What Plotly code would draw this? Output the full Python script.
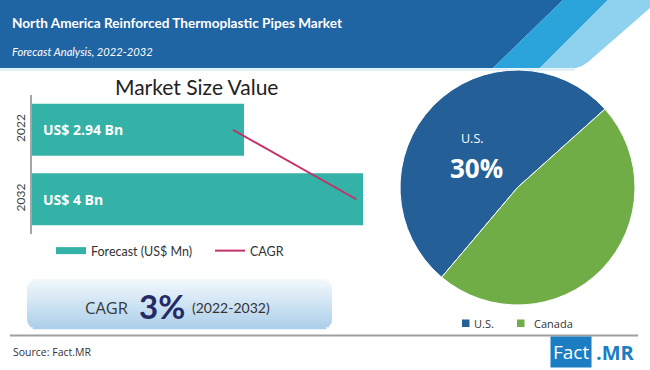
import plotly.graph_objects as go

# ---------------- data ----------------
years = ["2022", "2032"]
market_value_bn = [2.94, 4.0]
value_labels = ["US$ 2.94 Bn", "US$ 4 Bn"]
cagr_line = [2.84, 3.94]
regions = ["U.S.", "Canada"]
region_share_drawn = [52.2, 47.8]
us_label_name = "U.S."
us_label_value = "30%"
cagr_value = "3%"
cagr_period = "(2022-2032)"
title_text = "North America Reinforced Thermoplastic Pipes Market"
subtitle_text = "Forecast Analysis, 2022-2032"
chart_title = "Market Size Value"
source_text = "Source: Fact.MR"

# ---------------- styles ----------------
W, H = 650, 370
TEAL = "#34b2a8"
CAGR_C = "#c4306a"
BLUE = "#245f97"
GREEN = "#70ad47"
HEAD_DARK = "#1f64a3"
HEAD_MID = "#2aa4db"
HEAD_LIGHT = "#8ed2ef"
LOGO_BLUE = "#1b7dc2"
X_RANGE = [1.051, 4.0]

ypos = list(range(len(years)))  # category slots, first year on top


def px(x):
    return x / W


def py(y):
    return 1 - y / H


def path(points):
    return "M " + " L ".join(f"{px(a):.5f},{py(b):.5f}" for a, b in points) + " Z"


shapes = []
annotations = []

# header bands
shapes.append(dict(type="path", xref="paper", yref="paper", layer="below",
                   path=path([(0, 0), (563, 0), (493, 68), (0, 68)]),
                   fillcolor=HEAD_DARK, line=dict(width=0)))
shapes.append(dict(type="path", xref="paper", yref="paper", layer="below",
                   path=path([(563, 0), (608, 0), (540, 68), (493, 68)]),
                   fillcolor=HEAD_MID, line=dict(width=0)))
shapes.append(dict(type="path", xref="paper", yref="paper", layer="below",
                   path=path([(608, 0), (650, 0), (650, 8), (588, 62), (582, 66), (576, 68), (540, 68)]),
                   fillcolor=HEAD_LIGHT, line=dict(width=0)))
shapes.append(dict(type="line", xref="paper", yref="paper", layer="below",
                   x0=0, x1=px(575), y0=py(69.5), y1=py(69.5),
                   line=dict(color="#d6ecf8", width=2)))

# CAGR box with vertical gradient (strips with rounded corners)
bx0, bx1, by0, by1, rad = 27, 332, 279, 329, 10
n = 25
top_c = (242, 248, 252)
bot_c = (172, 207, 234)
step = (by1 - by0) / n
for i in range(n):
    y0 = by0 + i * step
    y1 = y0 + step
    ym = (y0 + y1) / 2
    inset = 0
    if ym < by0 + rad:
        d = by0 + rad - ym
        inset = rad - (rad ** 2 - d ** 2) ** 0.5
    elif ym > by1 - rad:
        d = ym - (by1 - rad)
        inset = rad - (rad ** 2 - d ** 2) ** 0.5
    t = i / (n - 1)
    c = tuple(int(round(top_c[k] + (bot_c[k] - top_c[k]) * t)) for k in range(3))
    shapes.append(dict(type="rect", xref="paper", yref="paper", layer="below",
                       x0=px(bx0 + inset), x1=px(bx1 - inset), y0=py(y1 + 0.3), y1=py(y0),
                       fillcolor=f"rgb{c}", line=dict(width=0)))

# bottom separator
shapes.append(dict(type="line", xref="paper", yref="paper",
                   x0=px(10), x1=px(638), y0=py(335.5), y1=py(335.5),
                   line=dict(color="#a0a0a0", width=2)))

# pie legend squares
shapes.append(dict(type="rect", xref="paper", yref="paper",
                   x0=px(462), x1=px(469.5), y0=py(327), y1=py(319.5),
                   fillcolor=BLUE, line=dict(width=0)))
shapes.append(dict(type="rect", xref="paper", yref="paper",
                   x0=px(517), x1=px(524.5), y0=py(327), y1=py(319.5),
                   fillcolor=GREEN, line=dict(width=0)))

# texts
annotations += [
    dict(text=f"<b>{title_text}</b>", x=px(10), y=py(23), xref="paper", yref="paper",
         xanchor="left", yanchor="middle", showarrow=False,
         font=dict(family="Lato", size=13.6, color="white")),
    dict(text=f"<i>{subtitle_text}</i>", x=px(10), y=py(51), xref="paper", yref="paper",
         xanchor="left", yanchor="middle", showarrow=False,
         font=dict(family="Lato", size=11.2, color="white")),
    dict(text=chart_title, x=px(196), y=py(86), xref="paper", yref="paper",
         xanchor="center", yanchor="middle", showarrow=False,
         font=dict(family="Lato", size=21, color="#222222")),
    dict(text=us_label_name, x=px(473), y=py(139), xref="paper", yref="paper",
         xanchor="center", yanchor="middle", showarrow=False,
         font=dict(family="Open Sans", size=12.5, color="white")),
    dict(text=f"<b>{us_label_value}</b>", x=px(476), y=py(168), xref="paper", yref="paper",
         xanchor="center", yanchor="middle", showarrow=False,
         font=dict(family="Open Sans", size=26, color="white")),
    dict(text="CAGR", x=px(130), y=py(307), xref="paper", yref="paper",
         xanchor="right", yanchor="middle", showarrow=False,
         font=dict(family="Open Sans", size=16.5, color="#3a3a3a")),
    dict(text=f"<b>{cagr_value}</b>", x=px(162), y=py(306), xref="paper", yref="paper",
         xanchor="center", yanchor="middle", showarrow=False,
         font=dict(family="Lato", size=33, color="#232a66")),
    dict(text=cagr_period, x=px(190), y=py(307), xref="paper", yref="paper",
         xanchor="left", yanchor="middle", showarrow=False,
         font=dict(family="Lato", size=14, color="#333333")),
    dict(text=source_text, x=px(11), y=py(352), xref="paper", yref="paper",
         xanchor="left", yanchor="middle", showarrow=False,
         font=dict(family="Open Sans", size=10.5, color="#333333")),
    dict(text=regions[0], x=px(472), y=py(323), xref="paper", yref="paper",
         xanchor="left", yanchor="middle", showarrow=False,
         font=dict(family="Open Sans", size=11, color="#333333")),
    dict(text=regions[1], x=px(532), y=py(323), xref="paper", yref="paper",
         xanchor="left", yanchor="middle", showarrow=False,
         font=dict(family="Open Sans", size=11, color="#333333")),
    dict(text="Fact", x=px(571), y=py(352), xref="paper", yref="paper",
         xanchor="center", yanchor="middle", showarrow=False, bgcolor=LOGO_BLUE, borderpad=2,
         font=dict(family="Open Sans", size=19, color="white")),
    dict(text="<b>.MR</b>", x=px(594), y=py(352), xref="paper", yref="paper",
         xanchor="left", yanchor="middle", showarrow=False,
         font=dict(family="Open Sans", size=20, color=LOGO_BLUE)),
]

# bar value labels
for yv, lab in zip(ypos, value_labels):
    annotations.append(dict(text=f"<b>{lab}</b>", x=X_RANGE[0], y=yv, xref="x", yref="y",
                            xanchor="left", yanchor="middle", xshift=9, showarrow=False,
                            font=dict(family="Open Sans", size=14, color="white")))

fig = go.Figure()
fig.add_trace(go.Bar(y=ypos, x=market_value_bn, orientation="h", width=0.75,
                     marker=dict(color=TEAL, line=dict(width=0)),
                     showlegend=False, customdata=years, hovertemplate="%{customdata}: %{x}<extra></extra>"))
fig.add_trace(go.Scatter(x=[None], y=[None], mode="lines", line=dict(color=TEAL, width=7),
                         name="Forecast (US$ Mn)"))
fig.add_trace(go.Scatter(x=cagr_line, y=ypos, mode="lines", line=dict(color=CAGR_C, width=2),
                         name="CAGR"))
fig.add_trace(go.Pie(labels=regions, values=region_share_drawn, sort=False, direction="clockwise",
                     rotation=220.2, textinfo="none", showlegend=False,
                     marker=dict(colors=[BLUE, GREEN], line=dict(color="white", width=1)),
                     domain=dict(x=[px(400), px(635)], y=[py(305), py(70)])))

fig.update_layout(
    width=W, height=H, autosize=False,
    margin=dict(l=0, r=0, t=0, b=0, autoexpand=False),
    paper_bgcolor="white", plot_bgcolor="rgba(0,0,0,0)",
    xaxis=dict(domain=[px(32), px(363)], range=X_RANGE, visible=False),
    yaxis=dict(domain=[py(234), py(95)], range=[len(years) - 0.5, -0.5], automargin=False,
               tickmode="array", tickvals=ypos, ticktext=years,
               showline=True, linecolor="#a6a6a6", linewidth=2,
               showgrid=False, zeroline=False, ticks="", tickangle=-90,
               tickfont=dict(family="Lato", size=12, color="#404040")),
    legend=dict(orientation="h", x=px(51), y=py(251), xanchor="left", yanchor="middle",
                font=dict(family="Lato", size=12.5, color="#333333"), bgcolor="rgba(0,0,0,0)",
                entrywidth=114, entrywidthmode="pixels", itemwidth=30),
    shapes=shapes,
    annotations=annotations,
)

fig.write_html("out.html", config={"displayModeBar": False},
               post_script="document.body.style.margin='0';")
